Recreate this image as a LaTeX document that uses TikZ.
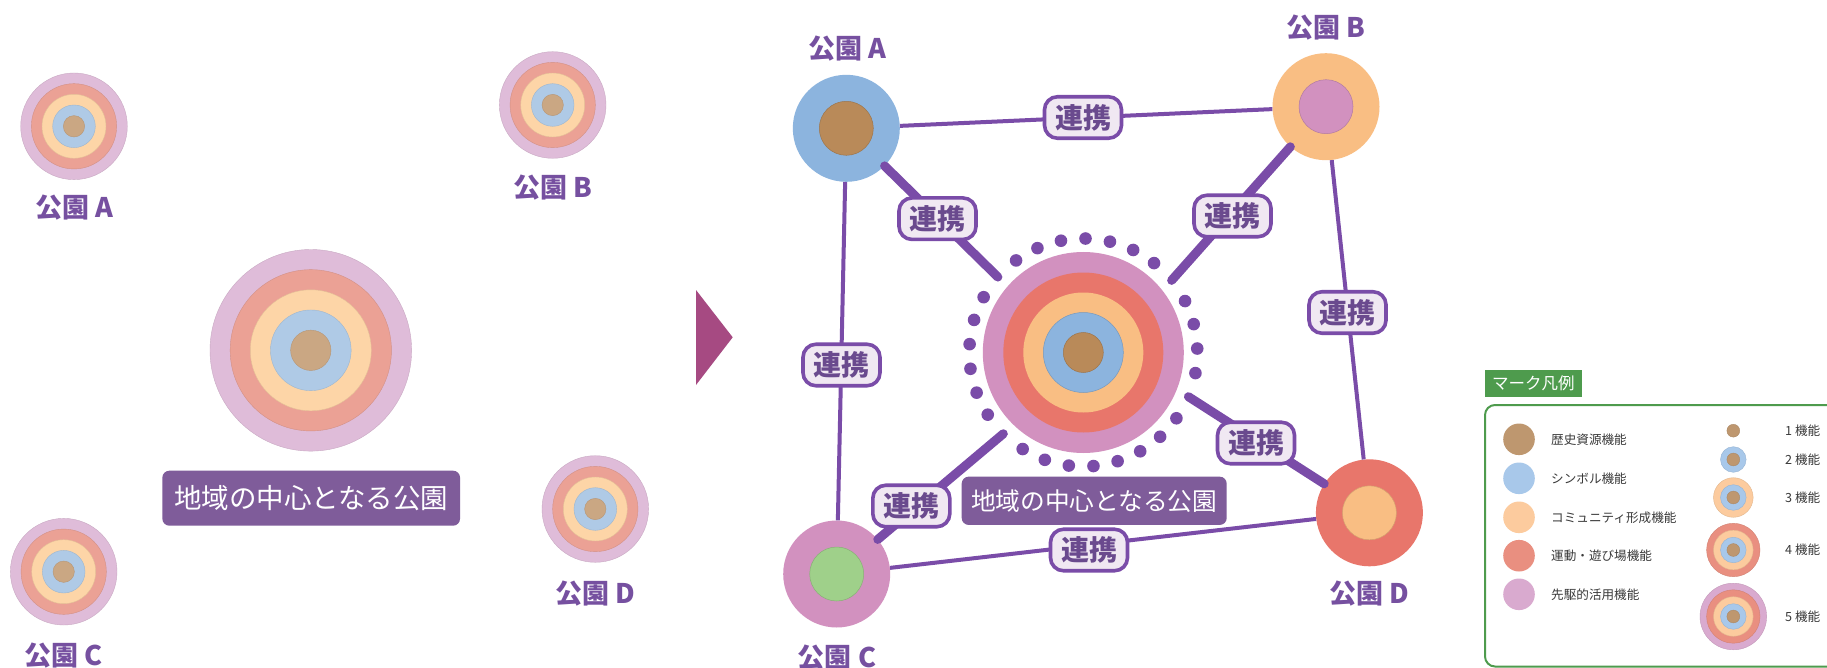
\documentclass[tikz,border=0pt]{standalone}
\usepackage{fontspec}
\setmainfont{Noto Sans CJK JP}
\definecolor{lp}{HTML}{DFBCD9}
\definecolor{lr}{HTML}{EBA195}
\definecolor{lo}{HTML}{FDD5A7}
\definecolor{lb}{HTML}{AFCAE6}
\definecolor{lw}{HTML}{CAA783}
\definecolor{rp}{HTML}{D291BF}
\definecolor{rr}{HTML}{E8766B}
\definecolor{ro}{HTML}{F9BE83}
\definecolor{rb}{HTML}{8CB4DE}
\definecolor{rw}{HTML}{B98A59}
\definecolor{rg}{HTML}{9FD08A}
\definecolor{gw}{HTML}{BE976F}
\definecolor{gb}{HTML}{A8C8EA}
\definecolor{go}{HTML}{FCCB9E}
\definecolor{gr}{HTML}{E98F80}
\definecolor{gp}{HTML}{D9AACF}
\definecolor{linkpurple}{HTML}{7A4CA8}
\definecolor{lblpurple}{HTML}{7650A0}
\definecolor{renkeifill}{HTML}{F0E8F2}
\definecolor{renkeitext}{HTML}{6A4A8E}
\definecolor{boxpurple}{HTML}{7F5C9A}
\definecolor{arrowmag}{HTML}{A64A82}
\definecolor{leggreen}{HTML}{4E9B4D}
\definecolor{legtext}{HTML}{3A3A3A}
\newcommand\leftpark[3]{%
  \foreach \f/\c in {1/lp,0.8/lr,0.6/lo,0.4/lb,0.2/lw}{%
    \filldraw[fill=\c,draw=\c!90!black,line width=0.4pt] (#1,#2) circle ({#3*\f*1pt});
  }}
\newcommand\sizemark[3]{% x y count
  \foreach \r/\c [count=\n] in {33.3/gp,26.7/gr,19.8/go,12.8/gb,6.4/gw}{%
    \ifnum\n>\numexpr5-#3\relax
      \filldraw[fill=\c,draw=\c!90!black,line width=0.4pt] (#1,#2) circle (\r pt);
    \fi
  }}
\begin{document}
\begin{tikzpicture}[x=1pt,y=-1pt,
  disc/.style={circle,inner sep=0pt,minimum size=#1},
  parklbl/.style={text=lblpurple,font=\fontsize{27}{30}\selectfont\bfseries,inner sep=0pt},
  hubbox/.style={fill=boxpurple,rounded corners=7pt,text=white,inner sep=0pt},
  thin link/.style={draw=linkpurple,line width=4pt},
  thick link/.style={draw=linkpurple,line width=9pt,line cap=round},
  renkei/.style={draw=linkpurple,line width=3.6pt,fill=renkeifill,rounded corners=13pt,
    minimum width=77pt,minimum height=41.5pt,inner sep=0pt,text=renkeitext,
    font=\fontsize{28}{28}\selectfont\bfseries},
  legtxt/.style={text=legtext,font=\fontsize{12.6}{13}\selectfont,anchor=west,inner sep=0pt}
]
\useasboundingbox (0,0) rectangle (1827,668);
\fill[white] (0,0) rectangle (1827,668);

% ---------- left panel ----------
\leftpark{74}{126.3}{53.3}
\leftpark{552.7}{105}{53.3}
\leftpark{310.8}{350.3}{100.8}
\leftpark{63.7}{571.7}{53.3}
\leftpark{595.3}{509}{53.3}
\node[parklbl] (lA) at (74.7,207.8) {公園 A};
\node[parklbl] (lB) at (552.5,187.5) {公園 B};
\node[parklbl] (lC) at (63.5,656) {公園 C};
\node[parklbl] (lD) at (595.5,594) {公園 D};
\node[hubbox,minimum width=297.7pt,minimum height=55pt,font=\fontsize{27.5}{28}\selectfont] (lhub) at (311.2,498.2) {地域の中心となる公園};

% ---------- arrow ----------
\fill[arrowmag] (696,290) -- (732.7,337.3) -- (696,385) -- cycle;

% ---------- right panel ----------
\node[disc=107pt,fill=rb] (A) at (846.3,128.3) {};
\node[disc=54pt,fill=rw,draw=rw!85!black,line width=0.5pt] (Ai) at (A.center) {};
\node[disc=107pt,fill=ro] (B) at (1326,106.7) {};
\node[disc=54pt,fill=rp,draw=rp!85!black,line width=0.5pt] (Bi) at (B.center) {};
\node[disc=107pt,fill=rp] (C) at (836.7,574) {};
\node[disc=54pt,fill=rg,draw=rg!85!black,line width=0.5pt] (Ci) at (C.center) {};
\node[disc=107pt,fill=rr] (D) at (1369.4,512.8) {};
\node[disc=54pt,fill=ro,draw=ro!85!black,line width=0.5pt] (Di) at (D.center) {};

\node[disc=201pt,fill=rp] (M) at (1083.3,352.5) {};
\node[disc=160pt,fill=rr] (M2) at (M.center) {};
\node[disc=120pt,fill=ro] (M3) at (M.center) {};
\node[disc=80pt,fill=rb,draw=rb!85!black,line width=0.5pt] (M4) at (M.center) {};
\node[disc=40pt,fill=rw,draw=rw!85!black,line width=0.5pt] (M5) at (M.center) {};

\foreach \k in {0,1,2,4,5,6,7,8,9,10,12,13,14,15,16,17,19,20,21,22,23,24,25,26,28}{
  \fill[linkpurple] ({1083.3+114*cos(2+12.414*\k)},{352.5-114*sin(2+12.414*\k)}) circle (6.3pt);
}
\coordinate (rNE) at ({1083.3+114*cos(39.24)},{352.5-114*sin(39.24)});
\coordinate (rNW) at ({1083.3+114*cos(138.55)},{352.5-114*sin(138.55)});
\coordinate (rSW) at ({1083.3+114*cos(225.45)},{352.5-114*sin(225.45)});
\coordinate (rSE) at ({1083.3+114*cos(337.2)},{352.5-114*sin(337.2)});

\draw[thin link] (A) -- (B);
\draw[thin link] (A) -- (C);
\draw[thin link] (B) -- (D);
\draw[thin link] (C) -- (D);
\draw[thick link] (A) -- (rNW);
\draw[thick link] (B) -- (rNE);
\draw[thick link] (C) -- (rSW);
\draw[thick link] (D) -- (rSE);

\node[renkei] (kAB) at (1083,117.5) {連携};
\node[renkei] (kAM) at (937.5,218.7) {連携};
\node[renkei] (kBM) at (1232.5,216) {連携};
\node[renkei] (kBD) at (1347.5,312.5) {連携};
\node[renkei] (kAC) at (841.5,365) {連携};
\node[renkei] (kCM) at (911.3,506) {連携};
\node[renkei] (kCD) at (1089,550) {連携};
\node[renkei] (kDM) at (1256,443) {連携};

\node[parklbl] (tA) at (847.5,48.3) {公園 A};
\node[parklbl] (tB) at (1326,27.5) {公園 B};
\node[parklbl] (tC) at (837,658) {公園 C};
\node[parklbl] (tD) at (1369,594) {公園 D};
\node[hubbox,minimum width=265pt,minimum height=48.3pt,font=\fontsize{24.7}{25}\selectfont] (rhub) at (1094.2,500.8) {地域の中心となる公園};

% ---------- legend ----------
\node[fill=leggreen,minimum width=96.7pt,minimum height=26.7pt,inner sep=0pt,text=white,
  font=\fontsize{16.5}{17}\selectfont] (legT) at (1533.3,383.3) {マーク凡例};
\draw[leggreen,line width=2pt,rounded corners=10pt] (1485,405) rectangle (1850,666.5);
\foreach \y/\c/\t [count=\i] in {439.3/gw/歴史資源機能,478.3/gb/シンボル機能,517.3/go/コミュニティ形成機能,555.7/gr/運動・遊び場機能,594.3/gp/先駆的活用機能}{
  \node[disc=31.6pt,fill=\c] (lg\i) at (1519,\y) {};
  \node[legtxt] (lt\i) at (1551,\y) {\t};
}
\sizemark{1733.3}{430.7}{1}
\sizemark{1733.3}{459.5}{2}
\sizemark{1733.3}{497.5}{3}
\sizemark{1733.3}{550}{4}
\sizemark{1733.3}{616.5}{5}
\node[legtxt] (s1) at (1785,430.7) {1 機能};
\node[legtxt] (s2) at (1785,460) {2 機能};
\node[legtxt] (s3) at (1785,497.7) {3 機能};
\node[legtxt] (s4) at (1785,550) {4 機能};
\node[legtxt] (s5) at (1785,616.7) {5 機能};
\end{tikzpicture}
\end{document}
